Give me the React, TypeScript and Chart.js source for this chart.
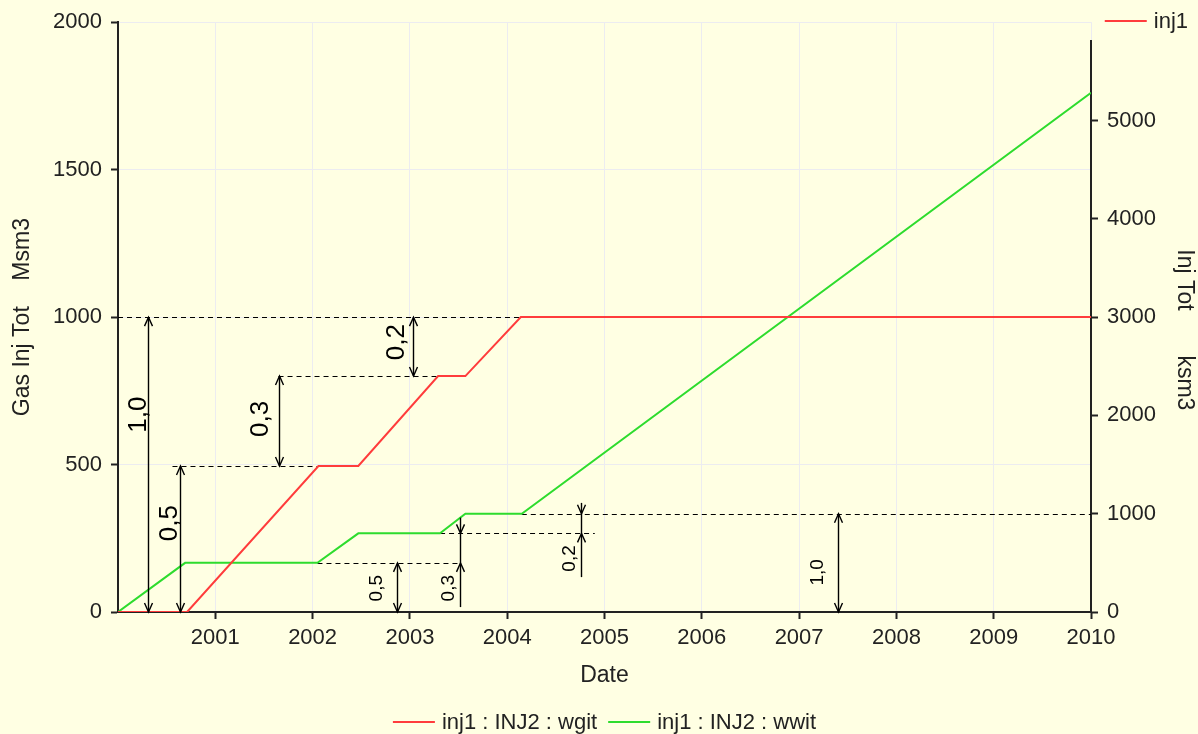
import React, { useEffect, useRef } from "react";
import { Chart, registerables } from "chart.js";

Chart.register(...registerables);

// ---------- data ----------
const xTickYears = [2001, 2002, 2003, 2004, 2005, 2006, 2007, 2008, 2009, 2010];
const rightTickValues = [0, 1000, 2000, 3000, 4000, 5000];
const rightAxisTop = 5820;

// inj1 : INJ2 : wgit (Gas Inj Tot, Msm3, left axis)
const wgitYears = [2000, 2000.71, 2002.06, 2002.47, 2003.29, 2003.57, 2004.14, 2010];
const wgitValues = [0, 0, 495, 495, 800, 800, 1000, 1000];

// inj1 : INJ2 : wwit (Inj Tot, ksm3, right axis)
const wwitYears = [2000, 2000.69, 2002.05, 2002.47, 2003.31, 2003.57, 2004.15, 2010];
const wwitValues = [0, 500, 500, 800, 800, 1000, 1000, 5283];

// dimension annotations on the gas curve (left axis units)
const gasDimYear = [2000.31, 2000.64, 2001.65, 2003.03];
const gasDimLow = [0, 0, 495, 800];
const gasDimHigh = [1000, 495, 800, 1000];
const gasDimLabel = ["1,0", "0,5", "0,3", "0,2"];
const gasDimLabelYear = [2000.29, 2000.61, 2001.54, 2002.94];
const gasDimLabelValue = [669, 301, 655, 915];
const gasGuideValue = [1000, 495, 800];
const gasGuideFrom = [2000, 2000.56, 2001.65];
const gasGuideTo = [2004.14, 2002.06, 2003.29];

// dimension annotations on the water curve (right axis units)
const wwitDimYear = [2002.87, 2003.51, 2004.76, 2007.4];
const wwitDimLow = [0, 500, 800, 0];
const wwitDimHigh = [500, 800, 1000, 1000];
const wwitShaftLow = [0, 50, 355, 0];
const wwitShaftHigh = [500, 960, 1110, 1000];
const wwitDimLabel = ["0,5", "0,3", "0,2", "1,0"];
const wwitDimLabelYear = [2002.71, 2003.45, 2004.7, 2007.25];
const wwitDimLabelValue = [242, 242, 545, 404];
const wwitGuideValue = [500, 800, 1000];
const wwitGuideFrom = [2002.05, 2003.31, 2004.15];
const wwitGuideTo = [2003.51, 2004.9, 2010];

const seriesNames = ["inj1 : INJ2 : wgit", "inj1 : INJ2 : wwit"];
const wellName = "inj1";

// ---------- styles ----------
const BG = "#FFFFE3";
const RED = "#FF3C3C";
const GREEN = "#2EDC2E";
const FONT = "'Liberation Sans', Arial, sans-serif";
const TEXT = "#222222";

function head(ctx: CanvasRenderingContext2D, x: number, y: number, dir: number) {
  // dir = +1 : pointing down (tip at y), -1 : pointing up
  ctx.beginPath();
  ctx.moveTo(x - 4, y - dir * 9);
  ctx.lineTo(x, y);
  ctx.lineTo(x + 4, y - dir * 9);
  ctx.stroke();
}

function rotLabel(ctx: CanvasRenderingContext2D, text: string, x: number, y: number, size: number) {
  ctx.save();
  ctx.translate(x, y);
  ctx.rotate(-Math.PI / 2);
  ctx.font = `${size}px ${FONT}`;
  ctx.fillStyle = "#000";
  ctx.textAlign = "center";
  ctx.textBaseline = "alphabetic";
  ctx.fillText(text, 0, 0);
  ctx.restore();
}

const annotationPlugin = {
  id: "dims",
  beforeDatasetsDraw(chart: any) {
    const { ctx, scales, chartArea } = chart;
    const xs = scales.x, yl = scales.y, yr = scales.y1;
    ctx.save();
    // right axis line (starts a little below the top of the plot)
    ctx.strokeStyle = "#222";
    ctx.lineWidth = 2;
    ctx.beginPath();
    ctx.moveTo(chartArea.right, yr.getPixelForValue(rightAxisTop));
    ctx.lineTo(chartArea.right, chartArea.bottom + 1);
    ctx.stroke();

    ctx.strokeStyle = "#000";
    ctx.lineWidth = 1;
    ctx.setLineDash([5, 4]);
    const dash = (x0: number, x1: number, y: number) => {
      const py = Math.round(y) + 0.5;
      ctx.beginPath();
      ctx.moveTo(x0, py);
      ctx.lineTo(x1, py);
      ctx.stroke();
    };
    gasGuideValue.forEach((v, i) =>
      dash(xs.getPixelForValue(gasGuideFrom[i]), xs.getPixelForValue(gasGuideTo[i]), yl.getPixelForValue(v))
    );
    wwitGuideValue.forEach((v, i) =>
      dash(xs.getPixelForValue(wwitGuideFrom[i]), xs.getPixelForValue(wwitGuideTo[i]), yr.getPixelForValue(v))
    );
    ctx.restore();
  },
  afterDatasetsDraw(chart: any) {
    const { ctx, scales } = chart;
    const xs = scales.x, yl = scales.y, yr = scales.y1;
    ctx.save();
    ctx.strokeStyle = "#000";
    ctx.lineWidth = 1.4;
    ctx.setLineDash([]);
    const dim = (year: number, sLo: number, sHi: number, lo: number, hi: number, sc: any) => {
      const px = Math.round(xs.getPixelForValue(year)) + 0.5;
      const pSLo = sc.getPixelForValue(sLo), pSHi = sc.getPixelForValue(sHi);
      const pLo = sc.getPixelForValue(lo), pHi = sc.getPixelForValue(hi);
      ctx.beginPath();
      ctx.moveTo(px, pSLo);
      ctx.lineTo(px, pSHi);
      ctx.stroke();
      head(ctx, px, pLo, sLo < lo ? -1 : 1);
      head(ctx, px, pHi, sHi > hi ? 1 : -1);
    };
    gasDimYear.forEach((yr0, i) => dim(yr0, gasDimLow[i], gasDimHigh[i], gasDimLow[i], gasDimHigh[i], yl));
    wwitDimYear.forEach((yr0, i) => dim(yr0, wwitShaftLow[i], wwitShaftHigh[i], wwitDimLow[i], wwitDimHigh[i], yr));
    gasDimLabel.forEach((t, i) =>
      rotLabel(ctx, t, xs.getPixelForValue(gasDimLabelYear[i]), yl.getPixelForValue(gasDimLabelValue[i]), 26)
    );
    wwitDimLabel.forEach((t, i) =>
      rotLabel(ctx, t, xs.getPixelForValue(wwitDimLabelYear[i]), yr.getPixelForValue(wwitDimLabelValue[i]), 19)
    );
    ctx.restore();
  },
  afterDraw(chart: any) {
    const { ctx, chartArea, width } = chart;
    ctx.save();
    ctx.font = `22px ${FONT}`;
    ctx.textBaseline = "middle";
    ctx.fillStyle = TEXT;
    // bottom legend
    const lineLen = 42, gapLT = 7, gapItems = 11;
    const w0 = ctx.measureText(seriesNames[0]).width;
    const w1 = ctx.measureText(seriesNames[1]).width;
    const total = lineLen + gapLT + w0 + gapItems + lineLen + gapLT + w1;
    let x = (chartArea.left + chartArea.right) / 2 - total / 2;
    const ly = 722;
    const colors = [RED, GREEN];
    [w0, w1].forEach((w, i) => {
      ctx.strokeStyle = colors[i];
      ctx.lineWidth = 2;
      ctx.beginPath();
      ctx.moveTo(x, ly);
      ctx.lineTo(x + lineLen, ly);
      ctx.stroke();
      ctx.textAlign = "left";
      ctx.fillText(seriesNames[i], x + lineLen + gapLT, ly + 1);
      x += lineLen + gapLT + w + gapItems;
    });
    // top-right legend
    const tw = ctx.measureText(wellName).width;
    const tx = width - 10 - tw;
    ctx.strokeStyle = RED;
    ctx.lineWidth = 2;
    ctx.beginPath();
    ctx.moveTo(tx - 7 - lineLen, 21);
    ctx.lineTo(tx - 7, 21);
    ctx.stroke();
    ctx.fillText(wellName, tx, 22);
    ctx.restore();
  },
};

export default function App() {
  const ref = useRef<HTMLCanvasElement>(null);
  useEffect(() => {
    document.body.style.margin = "0";
    document.body.style.background = BG;
    const tickFont = { family: FONT, size: 22 };
    const titleFont = { family: FONT, size: 23, lineHeight: 1.2 };
    const gridCommon = { color: "#ECECF0", lineWidth: 1, tickLength: 7, tickColor: "#222", tickWidth: 2 };
    const border = { color: "#222", width: 2 };
    const chart = new Chart(ref.current as HTMLCanvasElement, {
      type: "line",
      data: {
        datasets: [
          {
            label: seriesNames[0],
            data: wgitYears.map((x, i) => ({ x, y: wgitValues[i] })),
            borderColor: RED,
            backgroundColor: RED,
            borderWidth: 2,
            pointRadius: 0,
            tension: 0,
            yAxisID: "y",
          },
          {
            label: seriesNames[1],
            data: wwitYears.map((x, i) => ({ x, y: wwitValues[i] })),
            borderColor: GREEN,
            backgroundColor: GREEN,
            borderWidth: 2,
            pointRadius: 0,
            tension: 0,
            yAxisID: "y1",
          },
        ],
      },
      options: {
        responsive: false,
        animation: false,
        layout: { padding: { top: 20, left: 0, right: 0, bottom: 0 } },
        plugins: { legend: { display: false }, tooltip: { enabled: false } },
        scales: {
          x: {
            type: "linear",
            position: "bottom",
            min: 2000,
            max: 2010,
            afterBuildTicks: (s: any) => {
              s.ticks = xTickYears.map((v) => ({ value: v }));
            },
            afterFit: (s: any) => {
              s.height = 122;
            },
            ticks: { font: tickFont, color: TEXT, padding: 6, maxRotation: 0, callback: (v: any) => String(v) },
            grid: gridCommon,
            border,
            title: { display: true, text: "Date", font: titleFont, color: TEXT, padding: { top: 0, bottom: 45 } },
          },
          y: {
            type: "linear",
            position: "left",
            min: 0,
            max: 2000,
            ticks: { stepSize: 500, font: tickFont, color: TEXT, padding: 9, callback: (v: any) => String(v) },
            afterFit: (s: any) => {
              s.width = 118;
            },
            grid: gridCommon,
            border,
            title: {
              display: true,
              text: "Gas Inj Tot    Msm3",
              font: titleFont,
              color: TEXT,
              padding: { top: 9, bottom: 0 },
            },
          },
          y1: {
            type: "linear",
            position: "right",
            min: 0,
            max: 6000,
            afterBuildTicks: (s: any) => {
              s.ticks = rightTickValues.map((v) => ({ value: v }));
            },
            afterFit: (s: any) => {
              s.width = 107;
            },
            ticks: { font: tickFont, color: TEXT, padding: 9, callback: (v: any) => String(v) },
            grid: { ...gridCommon, drawOnChartArea: false },
            border: { display: false },
            title: {
              display: true,
              text: "    Inj Tot       ksm3",
              font: titleFont,
              color: TEXT,
              padding: { top: 0, bottom: 0 },
            },
          },
        },
      },
      plugins: [annotationPlugin],
    } as any);
    return () => chart.destroy();
  }, []);
  return (
    <div style={{ position: "fixed", left: 0, top: 0, width: 1198, height: 734, background: BG }}>
      <canvas ref={ref} width={1198} height={734} style={{ display: "block" }} />
    </div>
  );
}
